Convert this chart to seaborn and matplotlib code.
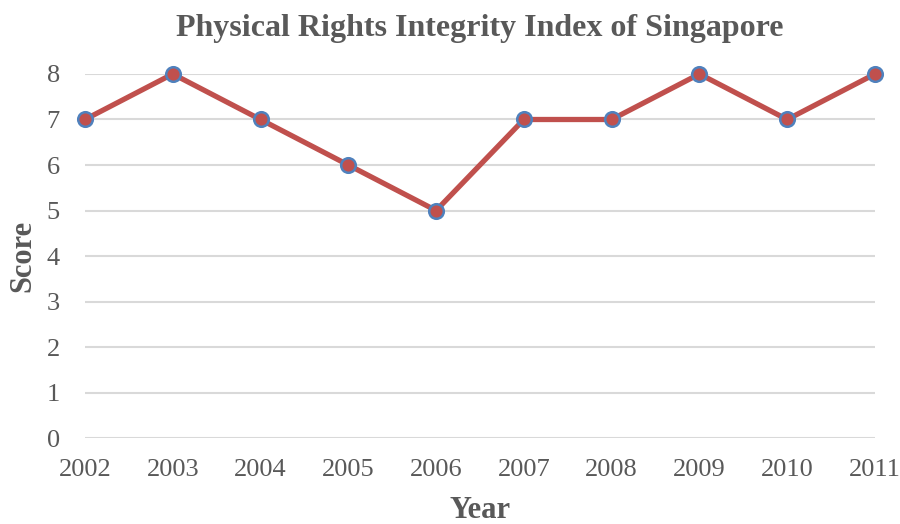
import matplotlib
matplotlib.use('Agg')
import matplotlib.pyplot as plt
import seaborn as sns
import pandas as pd

# Data
years = [2002, 2003, 2004, 2005, 2006, 2007, 2008, 2009, 2010, 2011]
scores = [7, 8, 7, 6, 5, 7, 7, 8, 7, 8]

df = pd.DataFrame({'Year': years, 'Score': scores})

sns.set_style('white')
plt.rcParams['font.family'] = ['Liberation Serif', 'DejaVu Serif']

fig = plt.figure(figsize=(9, 5.24), dpi=100)
ax = fig.add_axes([0.0944, 0.164, 0.8778, 0.6948])

sns.lineplot(data=df, x='Year', y='Score', ax=ax, color='#C0504D', linewidth=3.8,
             marker='o', markersize=10.5, markerfacecolor='#C0504D',
             markeredgecolor='#4F81BD', markeredgewidth=1.8, clip_on=False, zorder=3)

ax.set_xlim(years[0], years[-1])
ax.set_ylim(0, 8)
ax.set_xticks(years)
ax.set_yticks(range(0, 9))
ax.grid(axis='y', color='#D9D9D9', linewidth=1.5)
ax.grid(axis='x', visible=False)
for s in ax.spines.values():
    s.set_visible(False)

ax.tick_params(axis='both', labelsize=19, colors='#595959', length=0)
ax.tick_params(axis='x', pad=15)
ax.tick_params(axis='y', pad=18)

ax.set_title('Physical Rights Integrity Index of Singapore', fontsize=23,
             fontweight='bold', color='#595959', pad=27)
ax.set_xlabel('Year', fontsize=22, fontweight='bold', color='#595959', labelpad=11)
ax.set_ylabel('Score', fontsize=22, fontweight='bold', color='#595959', labelpad=7)

plt.savefig('out.png', dpi=100)
